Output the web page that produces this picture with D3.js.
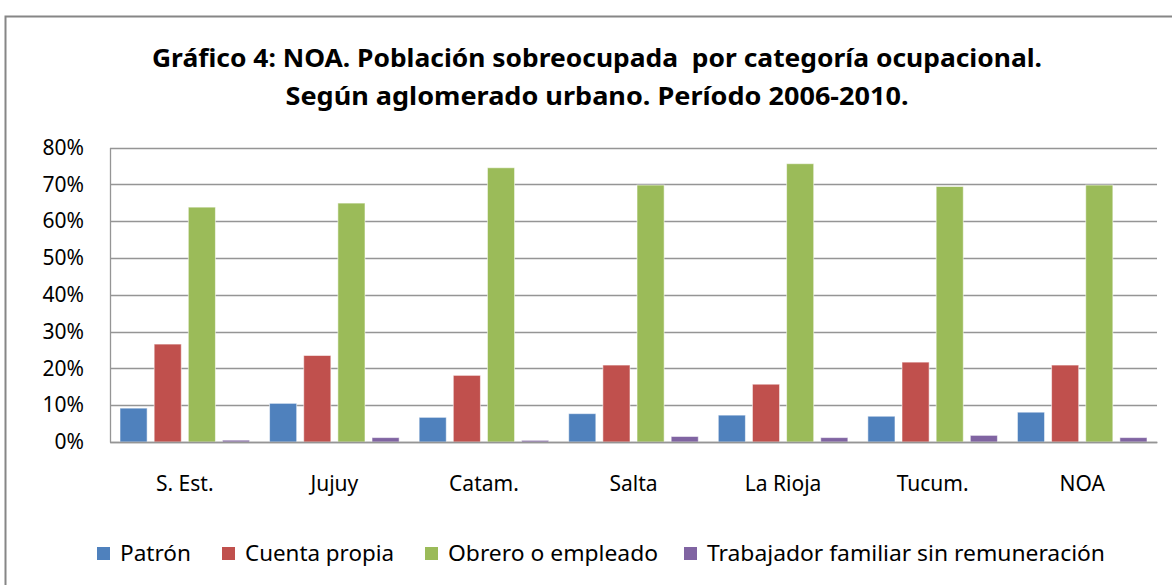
<!DOCTYPE html>
<html>
<head>
<meta charset="utf-8">
<script src="https://cdn.jsdelivr.net/npm/d3@7"></script>
<style>
  html, body { margin: 0; padding: 0; background: #fff; }
  svg { display: block; }
  text { font-family: "Noto Sans", "Open Sans", sans-serif; fill: #000; }
</style>
</head>
<body>
<svg id="chart" width="1172" height="585"></svg>
<script>
const categories = ["S. Est.", "Jujuy", "Catam.", "Salta", "La Rioja", "Tucum.", "NOA"];
const seriesNames = ["Patrón", "Cuenta propia", "Obrero o empleado", "Trabajador familiar sin remuneración"];
const patron      = [9.2, 10.5, 6.7, 7.7, 7.3, 7.0, 8.1];
const cuentaProp  = [26.6, 23.5, 18.1, 20.9, 15.7, 21.7, 20.9];
const obrero      = [63.8, 64.9, 74.5, 69.8, 75.6, 69.4, 69.8];
const trabajador  = [0.5, 1.2, 0.45, 1.5, 1.2, 1.8, 1.2];
const yTicks      = [0, 10, 20, 30, 40, 50, 60, 70, 80];
const colors      = ["#4F81BD", "#C0504D", "#9BBB59", "#8064A2"];
const titleLines  = ["Gráfico 4: NOA. Población sobreocupada  por categoría ocupacional.",
                     "Según aglomerado urbano. Período 2006-2010."];

const seriesValues = [patron, cuentaProp, obrero, trabajador];
const svg = d3.select("#chart");

// outer frame
svg.append("rect").attr("x", 5.5).attr("y", 16.5).attr("width", 1200).attr("height", 600)
  .attr("fill", "#fff").attr("stroke", "#868686").attr("stroke-width", 2);

const plot = { left: 110, right: 1157, top: 147.5, bottom: 442 };

const x0 = d3.scaleBand().domain(categories).range([plot.left, plot.right]).padding(0);
const x1 = d3.scaleBand().domain(d3.range(4))
  .range([10, x0.bandwidth() - 10]).paddingInner(0.206).paddingOuter(0);
const y = d3.scaleLinear().domain([0, 80]).range([plot.bottom, plot.top]);

// gridlines
svg.append("g").selectAll("line").data(yTicks).join("line")
  .attr("x1", plot.left).attr("x2", plot.right)
  .attr("y1", d => Math.round(y(d)) + 0.5).attr("y2", d => Math.round(y(d)) + 0.5)
  .attr("stroke", "#959595").attr("stroke-width", 1.3);

// y axis
const yAxis = d3.axisLeft(y).tickValues(yTicks).tickSize(0).tickPadding(26)
  .tickFormat(d => d + "%");
const gy = svg.append("g").attr("transform", `translate(${plot.left},0)`).call(yAxis);
gy.select(".domain").attr("stroke", "#959595").attr("stroke-width", 1.3);
gy.selectAll("text").attr("font-size", 21).attr("font-family", "Noto Sans").attr("fill", "#111");

// bars
const groups = svg.append("g").selectAll("g").data(categories).join("g")
  .attr("transform", d => `translate(${x0(d)},0)`);
groups.selectAll("rect")
  .data((c, i) => seriesValues.map((s, k) => ({ k, v: s[i] })))
  .join("rect")
  .attr("x", d => x1(d.k))
  .attr("width", x1.bandwidth())
  .attr("y", d => y(d.v))
  .attr("height", d => y(0) - y(d.v))
  .attr("fill", d => colors[d.k])
  .attr("stroke", "rgba(255,255,255,0.55)").attr("stroke-width", 1);

// x axis line (zero)
const xAxis = d3.axisBottom(x0).tickSize(0).tickPadding(34);
const gx = svg.append("g").attr("transform", `translate(0,${plot.bottom})`).call(xAxis);
gx.select(".domain").attr("stroke", "#959595").attr("stroke-width", 1.3);
gx.selectAll("text").attr("font-size", 21).attr("font-family", "Noto Sans").attr("fill", "#111");

// title
const title = svg.append("g");
const titleWidths = [890, 623];
titleLines.forEach((t, i) => {
  title.append("text")
    .attr("x", 597).attr("y", 67 + i * 38)
    .attr("text-anchor", "middle")
    .attr("font-size", 25).attr("font-weight", "bold")
    .style("white-space", "pre")
    .attr("textLength", titleWidths[i]).attr("lengthAdjust", "spacingAndGlyphs")
    .text(t);
});

// legend
const legendX = [97, 222, 425, 684];
const legendW = [71, 149, 210, 398];
const legend = svg.append("g").selectAll("g").data(seriesNames).join("g")
  .attr("transform", (d, i) => `translate(${legendX[i]},0)`);
legend.append("rect").attr("x", 0).attr("y", 547).attr("width", 13).attr("height", 13)
  .attr("fill", (d, i) => colors[i]);
legend.append("text").attr("x", 23).attr("y", 560.5)
  .attr("font-size", 22).attr("fill", "#111")
  .attr("textLength", (d, i) => legendW[i]).attr("lengthAdjust", "spacingAndGlyphs")
  .text(d => d);
</script>
</body>
</html>
